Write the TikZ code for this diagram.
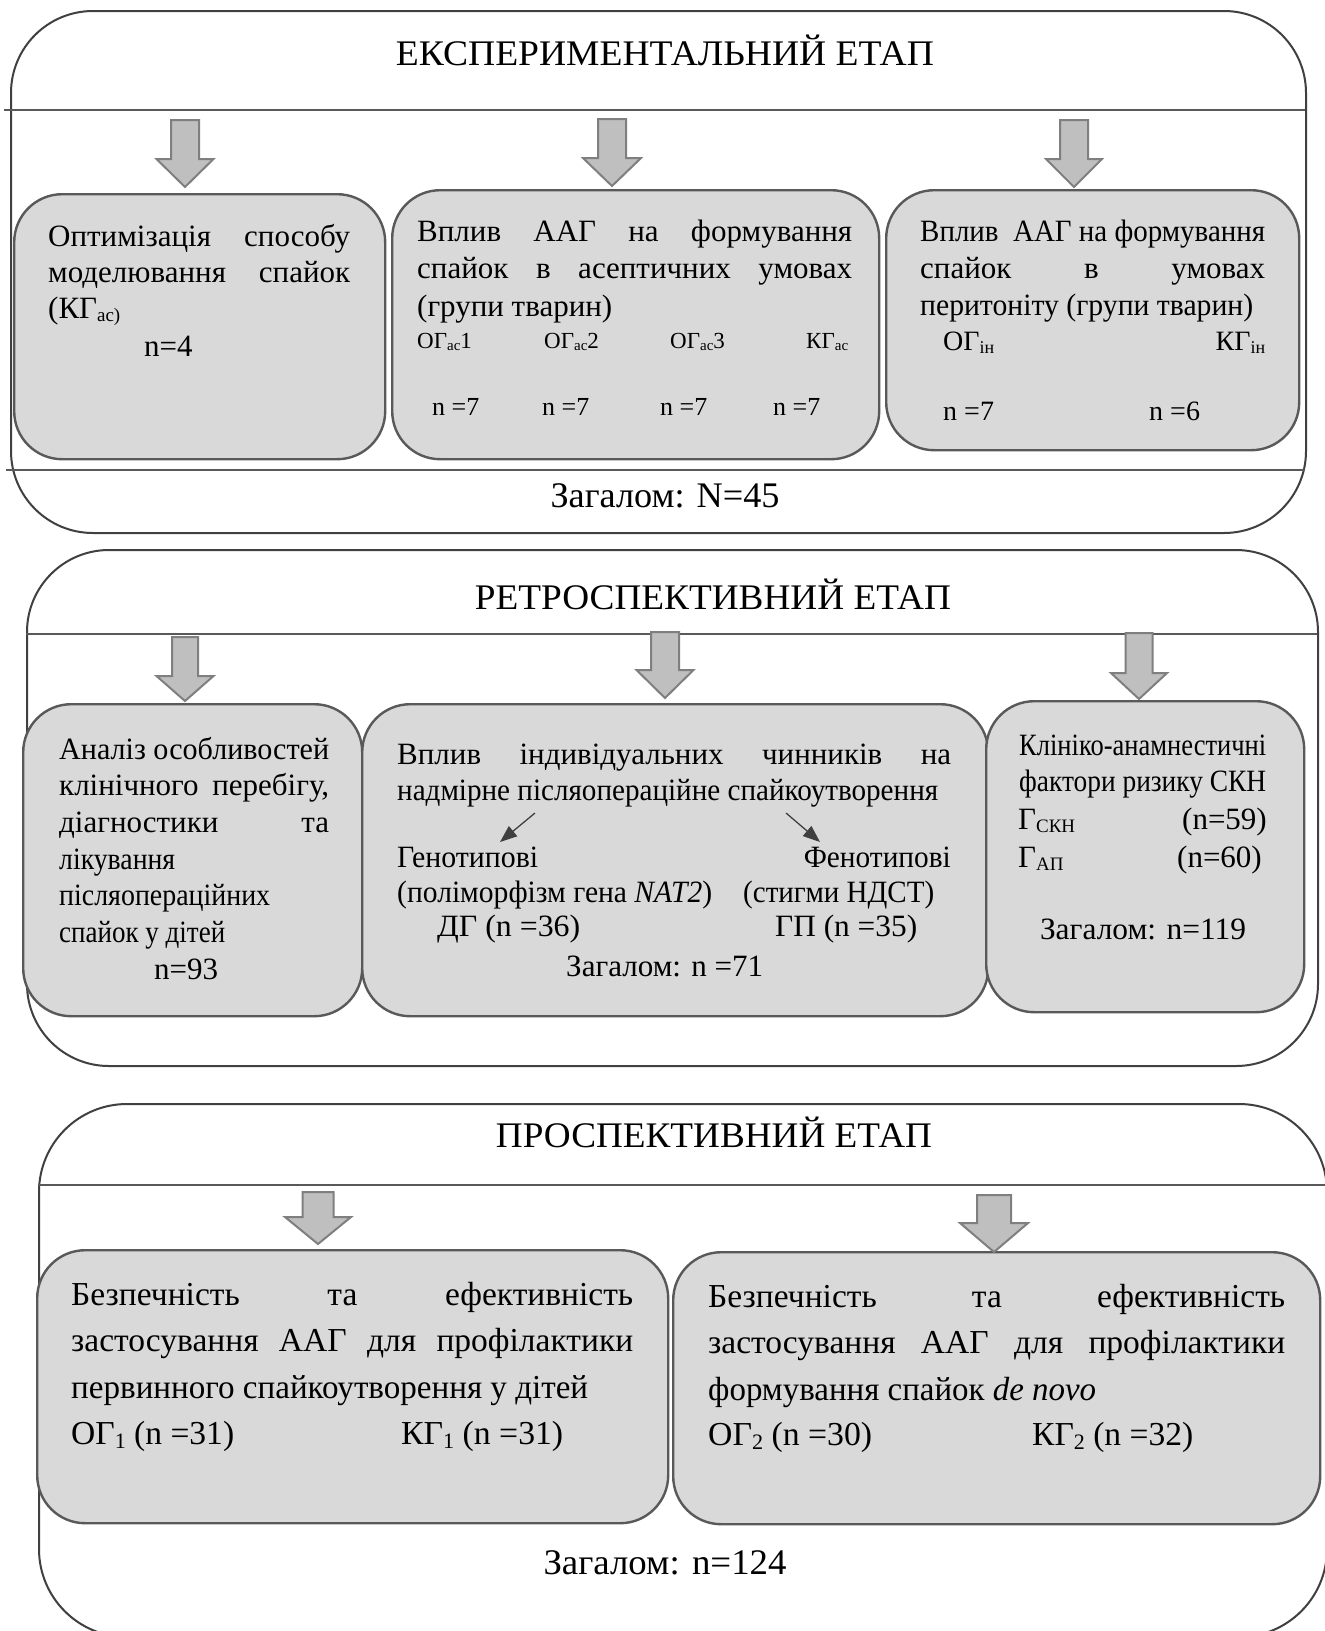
\documentclass[tikz,border=0pt]{standalone}
\usepackage{fontspec}
\setmainfont{Liberation Serif}
\usepackage{graphicx}
\usetikzlibrary{arrows.meta}
\definecolor{boxfill}{HTML}{D9D9D9}
\definecolor{boxline}{HTML}{595959}
\definecolor{arrfill}{HTML}{BFBFBF}
\definecolor{arrline}{HTML}{7F7F7F}
\definecolor{panline}{HTML}{404040}
\definecolor{sepcol}{HTML}{595959}
\definecolor{smallarr}{HTML}{404040}
\newsavebox\jbox
\newcommand\jfit[2]{\sbox\jbox{#2}\ifdim\wd\jbox>#1\relax\resizebox{#1}{\height}{\usebox\jbox}\else\makebox[#1][s]{#2}\fi}
\newcommand\fitw[2]{\resizebox{#1}{\height}{#2}}
\newcommand\fs[2]{\fontsize{#1}{#2}\selectfont}
\newcommand\lowsub[3][3pt]{\raisebox{-#1}{\fontsize{#2}{#2}\selectfont #3}}
\newcommand\barrow[6]{\draw[blockarr] (#1-#5,#2) -- (#1+#5,#2) -- (#1+#5,#3) -- (#1+#6,#3) -- (#1,#4) -- (#1-#6,#3) -- (#1-#5,#3) -- cycle;}
\tikzset{
  panel/.style={draw=panline, line width=2pt, rounded corners=82pt, anchor=north west, inner sep=0pt},
  sepline/.style={draw=sepcol, line width=1.4pt},
  gbox/.style={draw=boxline, fill=boxfill, line width=2.4pt, rounded corners=48pt, anchor=north west, inner sep=0pt},
  blockarr/.style={draw=arrline, fill=arrfill, line width=2pt, line join=miter},
  smallarrow/.style={draw=smallarr, line width=1.3pt, -{Triangle[length=17pt,width=13pt]}},
  txt/.style={inner sep=0pt, anchor=base west, font=\fs{31}{36}},
  txtr/.style={inner sep=0pt, anchor=base east, font=\fs{31}{36}},
  ttl/.style={inner sep=0pt, anchor=base, font=\fs{36}{40}},
}
\begin{document}
\begin{tikzpicture}[x=1pt, y=-1pt]
\useasboundingbox (0,0) rectangle (1325,1631);
\clip (0,0) rectangle (1325,1631);
\fill[white] (0,0) rectangle (1325,1631);

% ---------------- Panel 1 ----------------
\node[panel, minimum width=1295pt, minimum height=522pt] (p1) at (10,10) {};
\draw[sepline] (4,110) -- (1305,110);
\draw[sepline] (6,470) -- (1305,470);
\node[ttl] (title1) at (665,65) {\fitw{538pt}{ЕКСПЕРИМЕНТАЛЬНИЙ ЕТАП}};

\node[gbox, minimum width=371pt, minimum height=265pt] (b11) at (13,193) {};
\node[gbox, minimum width=487pt, minimum height=269pt] (b12) at (391,189) {};
\node[gbox, minimum width=413pt, minimum height=260pt] (b13) at (885,189) {};

\barrow{185}{120}{159}{187}{14}{28.5}
\barrow{612}{119}{158}{186}{14}{29}
\barrow{1074}{120}{159}{187}{14}{28}

\node[txt] (t11) at (48,246) {\parbox[t]{302pt}{\fs{31}{36}\jfit{302pt}{Оптимізація способу}\\\jfit{302pt}{моделювання спайок}\\(КГ\lowsub{19}{ас)}\\[2pt]\hspace*{96pt}n=4}};

\node[txt] (t12) at (417,241) {\parbox[t]{435pt}{\fs{31}{37.5}\jfit{435pt}{Вплив ААГ на формування}\\\jfit{435pt}{спайок в асептичних умовах}\\(групи тварин)}};
\node[txt, font=\fs{23}{26}] (g12) at (417,348) {\makebox[127pt][l]{ОГ\lowsub[2pt]{15}{ас}1}\makebox[126pt][l]{ОГ\lowsub[2pt]{15}{ас}2}\makebox[136pt][l]{ОГ\lowsub[2pt]{15}{ас}3}КГ\lowsub[2pt]{15}{ас}};
\node[txt, font=\fs{26}{30}] (n12) at (432,415) {\makebox[110pt][l]{n =7}\makebox[118pt][l]{n =7}\makebox[113pt][l]{n =7}n =7};

\node[txt] (t13) at (920,241) {\parbox[t]{345pt}{\fs{31}{37}\jfit{345pt}{Вплив\ \ ААГ на формування}\\\jfit{345pt}{спайок в умовах}\\\fitw{333pt}{перитоніту (групи тварин)}}};
\node[txt, font=\fs{28}{30}] (g13) at (943,350) {\makebox[322pt][s]{ОГ\lowsub{18}{ін}\hfill КГ\lowsub{18}{ін}}};
\node[txt, font=\fs{28}{30}] (n13) at (943,420) {\makebox[206pt][l]{n =7}n =6};

\node[ttl] (tot1) at (665,507) {\fitw{229pt}{Загалом: N=45}};

% ---------------- Panel 2 ----------------
\node[panel, minimum width=1291pt, minimum height=516pt] (p2) at (26,549) {};
\draw[sepline] (26,634) -- (1317,634);
\node[ttl] (title2) at (713,609) {\fitw{476pt}{РЕТРОСПЕКТИВНИЙ ЕТАП}};

\node[gbox, minimum width=339pt, minimum height=312pt] (b21) at (22,703) {};
\node[gbox, minimum width=626pt, minimum height=312pt] (b22) at (361,703) {};
\node[gbox, minimum width=318pt, minimum height=311pt] (b23) at (985,700) {};

\barrow{185}{637}{676}{701}{13}{28.5}
\barrow{665}{632}{670}{698}{14}{28.5}
\barrow{1139}{633}{673}{699}{13.5}{28}

\node[txt] (t21) at (59,759) {\parbox[t]{270pt}{\fs{31}{36.7}\jfit{270pt}{Аналіз особливостей}\\\jfit{270pt}{клінічного перебігу,}\\\jfit{270pt}{діагностики та}\\\fitw{116pt}{лікування}\\\fitw{211pt}{післяопераційних}\\\fitw{166pt}{спайок у дітей}\\\hspace*{95pt}n=93}};

\node[txt] (t22) at (397,764) {\parbox[t]{554pt}{\fs{31}{36}\jfit{554pt}{Вплив індивідуальних чинників на}\\\fitw{541pt}{надмірне післяопераційне спайкоутворення}}};
\coordinate (s1) at (535,813);
\coordinate (e1) at (500,842);
\coordinate (s2) at (786,813);
\coordinate (e2) at (820,842);
\draw[smallarrow] (s1) -- (e1);
\draw[smallarrow] (s2) -- (e2);
\node[txt] (gen) at (397,867) {\fitw{141pt}{Генотипові}};
\node[txtr] (fen) at (951,867) {\fitw{147pt}{Фенотипові}};
\node[txt] (gen2) at (397,902) {\fitw{315pt}{(поліморфізм гена \textit{NAT2})}};
\node[txt] (fen2) at (743,902) {\fitw{191pt}{(стигми НДСТ)}};
\node[txt] (dg) at (437,936) {\fitw{143pt}{ДГ (n =36)}};
\node[txt] (gp) at (775,936) {\fitw{142pt}{ГП (n =35)}};
\node[txt] (tot22) at (566,976) {\fitw{197pt}{Загалом: n =71}};

\node[txt] (t23) at (1019,755) {\parbox[t]{247pt}{\fs{31}{36}\fitw{247pt}{Клініко-анамнестичні}\\\fitw{247pt}{фактори ризику СКН}}};
\node[txt] (gskn) at (1018,829) {Г\lowsub{19}{СКН}};
\node[txtr] (nskn) at (1267,829) {(n=59)};
\node[txt] (gap) at (1018,867) {Г\lowsub{19}{АП}};
\node[txtr] (nap) at (1262,867) {(n=60)};
\node[inner sep=0pt, anchor=base, font=\fs{31}{36}] (tot23) at (1143,939) {\fitw{206pt}{Загалом: n=119}};

% ---------------- Panel 3 ----------------
\node[panel, rounded corners=88pt, minimum width=1288pt, minimum height=533pt] (p3) at (38,1103) {};
\draw[sepline] (38,1185) -- (1326,1185);
\node[ttl] (title3) at (714,1147) {\fitw{436pt}{ПРОСПЕКТИВНИЙ ЕТАП}};

\node[gbox, minimum width=631pt, minimum height=273pt] (b31) at (36,1249) {};
\node[gbox, minimum width=647pt, minimum height=272pt] (b32) at (672,1251) {};

\barrow{318}{1192}{1217}{1244}{15.5}{33}
\barrow{994}{1195}{1223}{1252}{17}{34}

\node[txt] (t31) at (71,1305) {\parbox[t]{562pt}{\fs{33.5}{46.5}\jfit{562pt}{Безпечність та ефективність}\\\jfit{562pt}{застосування ААГ для профілактики}\\\fitw{517pt}{первинного спайкоутворення у дітей}}};
\node[txt, font=\fs{33.5}{40}] (g31) at (71,1444) {\fitw{163pt}{ОГ\lowsub[4pt]{22}{1} (n =31)}};
\node[txt, font=\fs{33.5}{40}] (k31) at (401,1444) {\fitw{162pt}{КГ\lowsub[4pt]{22}{1} (n =31)}};

\node[txt] (t32) at (708,1307) {\parbox[t]{577pt}{\fs{33.5}{46.5}\jfit{577pt}{Безпечність та ефективність}\\\jfit{577pt}{застосування ААГ для профілактики}\\\fitw{388pt}{формування спайок \textit{de novo}}}};
\node[txt, font=\fs{33.5}{40}] (g32) at (708,1445) {\fitw{164pt}{ОГ\lowsub[4pt]{22}{2} (n =30)}};
\node[txt, font=\fs{33.5}{40}] (k32) at (1032,1445) {\fitw{161pt}{КГ\lowsub[4pt]{22}{2} (n =32)}};

\node[ttl] (tot3) at (665,1574) {\fitw{243pt}{Загалом: n=124}};
\end{tikzpicture}
\end{document}
